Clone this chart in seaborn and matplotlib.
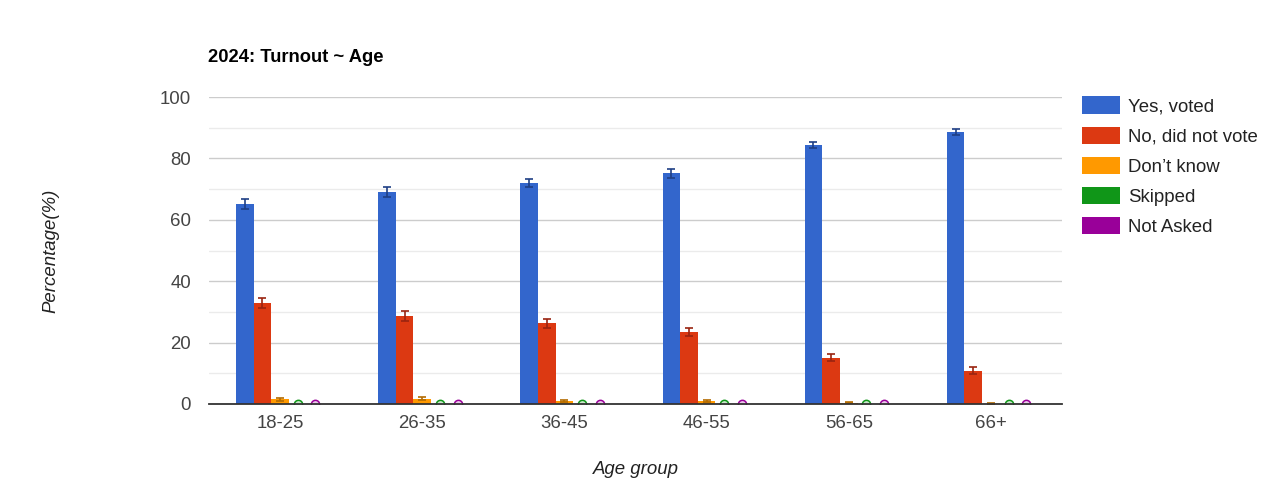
import matplotlib
matplotlib.use("Agg")
import matplotlib.pyplot as plt
import seaborn as sns
import pandas as pd
import numpy as np
from matplotlib.patches import Patch

age_groups = ["18-25", "26-35", "36-45", "46-55", "56-65", "66+"]
series = ["Yes, voted", "No, did not vote", "Don\u2019t know", "Skipped", "Not Asked"]
yes_voted = [65.2, 69.0, 71.9, 75.1, 84.4, 88.5]
no_vote = [32.8, 28.7, 26.3, 23.5, 15.1, 10.8]
dont_know = [1.6, 1.7, 1.0, 1.0, 0.4, 0.1]
skipped = [0, 0, 0, 0, 0, 0]
not_asked = [0, 0, 0, 0, 0, 0]
yes_err = [1.6, 1.6, 1.3, 1.4, 1.1, 1.0]
no_err = [1.6, 1.6, 1.4, 1.2, 1.2, 1.1]
dk_err = [0.5, 0.5, 0.4, 0.4, 0.2, 0.1]
skip_err = [0, 0, 0, 0, 0, 0]
na_err = [0, 0, 0, 0, 0, 0]
colors = ["#3366cc", "#dc3912", "#ff9900", "#109618", "#990099"]
err_colors = ["#1f3f85", "#9a2410", "#b36b00", "#0b6911", "#6b006b"]
fill_colors = ["#c2d1f0", "#f5c4b8", "#ffe0b3", "#c8e8ca", "#ecc8ec"]

vals = [yes_voted, no_vote, dont_know, skipped, not_asked]
errs = [yes_err, no_err, dk_err, skip_err, na_err]
rows = []
for s, v in zip(series, vals):
    for g, x in zip(age_groups, v):
        rows.append({"Age group": g, "Series": s, "Value": x})
df = pd.DataFrame(rows)

sns.set_theme(style="white")
plt.rcParams["font.family"] = ["Liberation Sans", "DejaVu Sans"]

fig = plt.figure(figsize=(12.68, 5.0), dpi=100)
ax = fig.add_axes([209/1268, 96/500, (1062-209)/1268, (404-97)/500])

sns.barplot(data=df, x="Age group", y="Value", hue="Series", order=age_groups,
            hue_order=series, palette=colors, width=0.62, errorbar=None,
            ax=ax, legend=False, saturation=1, linewidth=0)

bar_containers = list(ax.containers)
for i, cont in enumerate(bar_containers):
    for j, p in enumerate(cont.patches):
        cx = p.get_x() + p.get_width() / 2
        h = p.get_height()
        if vals[i][j] == 0:
            ax.scatter([cx], [0], s=36, marker="o", facecolor=fill_colors[i],
                       edgecolor=colors[i], linewidth=1.1, zorder=4, clip_on=True)
        else:
            ax.errorbar([cx], [h], yerr=[errs[i][j]], fmt="none", ecolor=err_colors[i],
                        elinewidth=1.2, capsize=3, capthick=1.2, zorder=5)

ax.set_xlim(-0.5, len(age_groups) - 0.5)
ax.set_ylim(0, 100)
ax.set_yticks([0, 20, 40, 60, 80, 100])
ax.set_yticks([10, 30, 50, 70, 90], minor=True)
ax.grid(True, which="major", axis="y", color="#cccccc", linewidth=1)
ax.grid(True, which="minor", axis="y", color="#ebebeb", linewidth=1)
ax.set_axisbelow(True)
for s in ["top", "right", "left"]:
    ax.spines[s].set_visible(False)
ax.spines["bottom"].set_color("#333333")
ax.spines["bottom"].set_linewidth(1.3)
ax.spines["bottom"].set_zorder(6)
ax.tick_params(axis="both", which="both", length=0, labelsize=13.4, labelcolor="#444444")
ax.tick_params(axis="y", pad=13)
ax.tick_params(axis="x", pad=8)
ax.set_xlabel("Age group", fontsize=13.4, style="italic", color="#222222", labelpad=21)
ax.set_ylabel("Percentage(%)", fontsize=13.4, style="italic", color="#222222", labelpad=72)

fig.text(208/1268, 1 - 58/500, "2024: Turnout ~ Age", fontsize=13.2, fontweight="bold",
         color="#000000", va="center", ha="left")

handles = [Patch(facecolor=c, edgecolor="none") for c in colors]
fig.legend(handles, series, loc="upper left", bbox_to_anchor=(1075/1268, 1 - 89/500),
           frameon=False, fontsize=13.4, handlelength=2.0, handleheight=1.05,
           labelspacing=0.6, handletextpad=0.45, labelcolor="#222222", borderaxespad=0)

fig.savefig("out.png", dpi=100)
